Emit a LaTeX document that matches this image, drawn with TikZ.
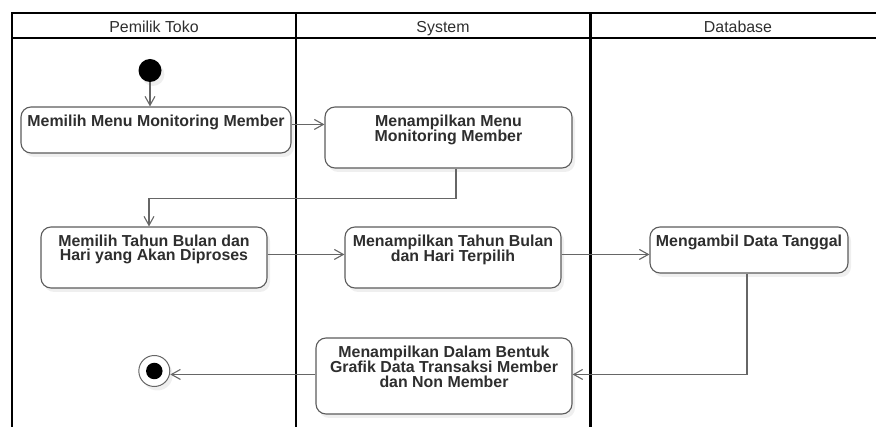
\documentclass[tikz,border=0pt]{standalone}
\usepackage{fontspec}
\setmainfont{Liberation Sans}
\usetikzlibrary{arrows.meta,shadows}
\definecolor{ink}{HTML}{2E2E2E}
\definecolor{edge}{HTML}{5C5C5C}
\definecolor{flowc}{HTML}{666666}

\begin{document}
\begin{tikzpicture}[x=1pt,y=-1pt,
  lane/.style={line width=2pt,draw=black},
  soft/.style={drop shadow={shadow xshift=3pt,shadow yshift=-4pt,fill=black!12}},
  act/.style={draw=edge,line width=1.1pt,rounded corners=10pt,fill=white,
    inner sep=0pt,soft},
  acttext/.style={anchor=north,inner sep=0pt,align=center,text=ink,
    font=\bfseries\fontsize{15.9}{14.5}\selectfont},
  flow/.style={draw=flowc,line width=1.1pt,
    -{Straight Barb[length=9pt,width=10pt,line width=1.1pt]}},
  head/.style={anchor=base,text=ink,inner sep=0pt,
    font=\fontsize{15.9}{18}\selectfont},
]
\useasboundingbox (0,0) rectangle (876,427);
\clip (0,0) rectangle (876,427);

% swimlane frame
\draw[lane] (12,440) -- (12,13.3) -- (900,13.3);
\draw[lane] (12,38) -- (900,38);
\draw[lane] (296,13.3) -- (296,440);
\draw[lane,line width=3pt] (590,13.3) -- (590,440);

% lane headers
\node[head] (h1) at (154,32.3) {Pemilik Toko};
\node[head] (h2) at (443,32.3) {System};
\node[head] (h3) at (738,32.3) {Database};

% start and end states
\node[circle,fill=black,minimum size=23pt,inner sep=0pt,soft] (start) at (150,70.5) {};
\node[circle,draw=flowc,line width=1pt,fill=white,minimum size=31pt,inner sep=0pt,soft] (fin) at (154.3,371) {};
\node[circle,fill=black,minimum size=16.5pt,inner sep=0pt] (fincore) at (fin) {};

% activities
\node[act,minimum width=270pt,minimum height=46pt] (b1) at (156,130) {};
\node[act,minimum width=247pt,minimum height=61pt] (b2) at (448.5,137.5) {};
\node[act,minimum width=226pt,minimum height=61pt] (b3) at (154,257.5) {};
\node[act,minimum width=216pt,minimum height=61pt] (b4) at (453,257.5) {};
\node[act,minimum width=198pt,minimum height=46pt] (b5) at (749,250) {};
\node[act,minimum width=256pt,minimum height=76pt] (b6) at (444,376) {};

\node[acttext] (t1) at ([yshift=-7.5pt]b1.north) {\rule{0pt}{12pt}Memilih Menu Monitoring Member};
\node[acttext] (t2) at ([yshift=-7.5pt]b2.north) {\rule{0pt}{12pt}Menampilkan Menu\\Monitoring Member};
\node[acttext] (t3) at ([yshift=-7.5pt]b3.north) {\rule{0pt}{12pt}Memilih Tahun Bulan dan\\Hari yang Akan Diproses};
\node[acttext] (t4) at ([yshift=-7.5pt]b4.north) {\rule{0pt}{12pt}Menampilkan Tahun Bulan\\dan Hari Terpilih};
\node[acttext] (t5) at ([yshift=-7.5pt]b5.north) {\rule{0pt}{12pt}Mengambil Data Tanggal};
\node[acttext] (t6) at ([yshift=-7.5pt]b6.north) {\rule{0pt}{12pt}Menampilkan Dalam Bentuk\\Grafik Data Transaksi Member\\dan Non Member};

% control flow
\draw[flow] (start.south) -- (start.south |- b1.north);
\draw[flow] ([yshift=-18pt]b1.north east) -- ([yshift=-18pt]b1.north east -| b2.west);
\draw[flow] ([xshift=7.5pt]b2.south) -- ++(0,30) -| ([xshift=-5pt]b3.north);
\draw[flow] ([yshift=-28pt]b3.north east) -- ([yshift=-28pt]b3.north east -| b4.west);
\draw[flow] ([yshift=-28pt]b4.north east) -- ([yshift=-28pt]b4.north east -| b5.west);
\draw[flow] ([xshift=-2pt]b5.south) |- ([yshift=-37pt]b6.north east);
\draw[flow] ([yshift=-37pt]b6.north west) -- ([yshift=-37pt]b6.north west -| fin.east);
\end{tikzpicture}
\end{document}
